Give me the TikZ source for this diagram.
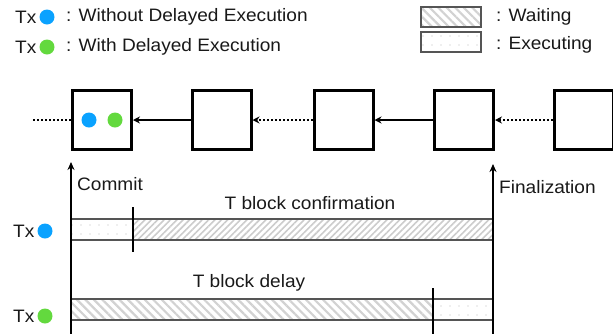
\documentclass[tikz,border=0pt]{standalone}
\usepackage{fontspec}
\setmainfont{Liberation Sans}[FakeStretch=1.06]
\usetikzlibrary{patterns.meta,arrows.meta}
\definecolor{txblue}{HTML}{0AA2FF}
\definecolor{txgreen}{HTML}{63D93E}
\definecolor{barline}{HTML}{555555}
\tikzset{
  lbl/.style={font=\fontsize{18}{21}\selectfont, inner sep=0pt, anchor=west, text=black!90},
  blk/.style={draw=black, line width=3pt, minimum size=59pt, inner sep=0pt, fill=white},
  dotb/.style={circle, inner sep=0pt, minimum size=15pt},
  link/.style={line width=2pt, -{Stealth[length=7pt,width=7pt]}},
  dlink/.style={line width=2.5pt, dash pattern=on 2pt off 2pt, -{Stealth[length=7pt,width=7pt]}},
  dline/.style={line width=2.5pt, dash pattern=on 2pt off 2pt},
  waitne/.style={pattern={Lines[angle=45,distance=4.5pt,line width=1.6pt]}, pattern color=gray!40},
  waitnw/.style={pattern={Lines[angle=-45,distance=6pt,line width=2.2pt]}, pattern color=gray!35},
  execp/.style={pattern={Dots[distance=9pt,radius=0.7pt]}, pattern color=gray!55},
  bord/.style={draw=barline, line width=1.2pt},
  axis/.style={line width=2.2pt},
  arr/.style={line width=2pt, -{Stealth[length=8pt,width=7pt]}},
}
\begin{document}
\begin{tikzpicture}[x=1pt,y=-1pt]
\useasboundingbox (0,0) rectangle (613,333);
\clip (0,0) rectangle (613,333);
% legend
\node[lbl] (t1) at (15,17) {Tx};
\node[dotb, fill=txblue] (d1) at (47,17) {};
\node[lbl] (l1) at (66,17) {: Without Delayed Execution};
\node[lbl] (t2) at (15,47) {Tx};
\node[dotb, fill=txgreen] (d2) at (47,47) {};
\node[lbl] (l2) at (66,47) {: With Delayed Execution};
\path[waitnw] (421,7) rectangle (481,27);
\draw[bord] (421,7) rectangle (481,27);
\node[lbl] (lw) at (496,17) {: Waiting};
\path[execp] (421,32) rectangle (481,52);
\draw[bord] (421,32) rectangle (481,52);
\node[lbl] (le) at (496,45) {: Executing};
% blocks
\node[blk] (b1) at (102,120) {};
\node[blk] (b2) at (221.5,120) {};
\node[blk] (b3) at (343.5,120) {};
\node[blk] (b4) at (464,120) {};
\node[blk] (b5) at (584,120) {};
\node[dotb, fill=txblue] (bd1) at (89,120) {};
\node[dotb, fill=txgreen] (bd2) at (115,120) {};
\coordinate (lft) at (33,120);
\draw[dline] (lft) -- (b1.west);
\draw[link] (b2.west) -- (b1.east);
\draw[dlink] (b3.west) -- (b2.east);
\draw[link] (b4.west) -- (b3.east);
\draw[dlink] (b5.west) -- (b4.east);
% bars
\path[execp] (71,219) rectangle (133,240);
\path[waitne] (133,219) rectangle (493,240);
\draw[bord] (71,219) -- (493,219) (71,240) -- (493,240);
\path[waitnw] (71,299) rectangle (433,320);
\path[execp] (433,299) rectangle (493,320);
\draw[bord] (71,299) -- (493,299) (71,320) -- (493,320);
% axes
\coordinate (cb) at (71,334);
\coordinate (ct) at (71,162);
\coordinate (fb) at (493,334);
\coordinate (ft) at (493,164);
\draw[arr] (cb) -- (ct);
\draw[arr] (fb) -- (ft);
\node[lbl] (commit) at (77,184) {Commit};
\node[lbl] (fin) at (499,187) {Finalization};
\coordinate (k1a) at (133,207);
\coordinate (k1b) at (133,252);
\coordinate (k2a) at (433,288);
\coordinate (k2b) at (433,334);
\draw[axis] (k1a) -- (k1b);
\draw[axis] (k2a) -- (k2b);
\node[lbl, anchor=center] (conf) at (310,203) {T block confirmation};
\node[lbl, anchor=center] (dly) at (249,283) {T block delay};
\node[lbl] (t3) at (13,231) {Tx};
\node[dotb, fill=txblue] (d3) at (45,231) {};
\node[lbl] (t4) at (13,316) {Tx};
\node[dotb, fill=txgreen] (d4) at (45,316) {};
\end{tikzpicture}
\end{document}
